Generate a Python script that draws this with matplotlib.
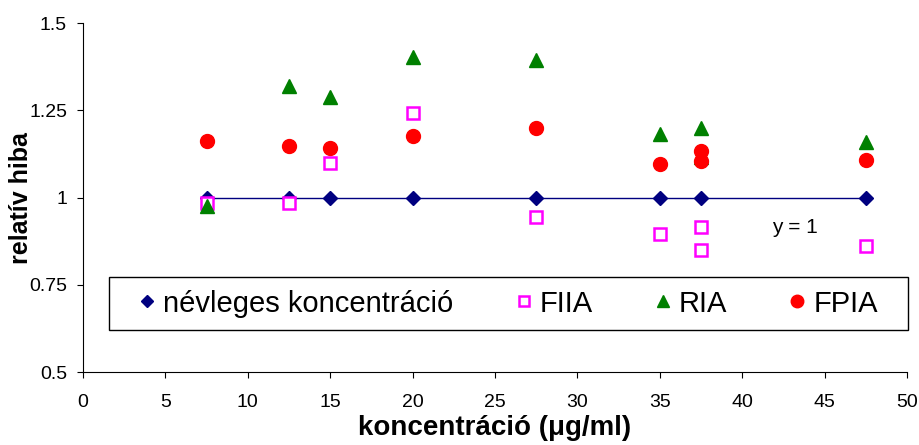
import matplotlib.pyplot as plt
from matplotlib.patches import Rectangle

plt.rcParams['font.family'] = ['Liberation Sans', 'DejaVu Sans']

conc = [7.5, 12.5, 15, 20, 27.5, 35, 37.5, 47.5]
nevleges = [1, 1, 1, 1, 1, 1, 1, 1]

fiia_x = [7.5, 12.5, 15, 20, 27.5, 35, 37.5, 37.5, 47.5]
fiia_y = [0.985, 0.985, 1.10, 1.242, 0.945, 0.895, 0.915, 0.849, 0.862]

ria_x = [7.5, 12.5, 15, 20, 27.5, 35, 37.5, 37.5, 47.5]
ria_y = [0.975, 1.32, 1.288, 1.403, 1.394, 1.182, 1.199, 1.117, 1.159]

fpia_x = [7.5, 12.5, 15, 20, 27.5, 35, 37.5, 37.5, 47.5]
fpia_y = [1.162, 1.148, 1.142, 1.176, 1.199, 1.096, 1.133, 1.105, 1.107]

fig = plt.figure(figsize=(9.19, 4.45), dpi=100)
ax = fig.add_axes([0.0903, 0.164, 0.8967, 0.784])

# trendline y = 1
ax.plot([min(conc), max(conc)], [1, 1], color='#000080', lw=1, zorder=1)

ax.plot(conc, nevleges, 'D', color='#000080', ms=7, ls='none',
        label='névleges koncentráció', zorder=3)
ax.plot(fiia_x, fiia_y, 's', mfc='white', mec='#FF00FF', mew=1.8, ms=8.5,
        ls='none', label='FIIA', zorder=3)
ax.plot(ria_x, ria_y, '^', color='#008000', ms=10, ls='none', label='RIA', zorder=3)
ax.plot(fpia_x, fpia_y, 'o', color='#FF0000', ms=10, ls='none', label='FPIA', zorder=4)

ax.text(43.2, 0.915, 'y = 1', fontsize=15, ha='center', va='center')

ax.set_xlim(0, 50)
ax.set_ylim(0.5, 1.5)
ax.set_xticks(range(0, 51, 5))
ax.set_yticks([0.5, 0.75, 1, 1.25, 1.5])
ax.set_yticklabels(['0.5', '0.75', '1', '1.25', '1.5'])
ax.tick_params(direction='out', labelsize=14, length=4.5)
ax.tick_params(axis='x', pad=11.5)
ax.tick_params(axis='y', pad=7)
ax.spines['top'].set_visible(False)
ax.spines['right'].set_visible(False)

ax.set_xlabel('koncentráció (μg/ml)', fontsize=20, fontweight='bold', labelpad=3)
ax.set_ylabel('relatív hiba', fontsize=18, fontweight='bold', labelpad=-3)

# legend frame drawn separately so the box can be wider than the entries
ax.add_patch(Rectangle((0.0316, 0.120), 0.969, 0.152, transform=ax.transAxes,
                       fill=True, facecolor='white', edgecolor='black', lw=1,
                       zorder=5, clip_on=False))
leg = ax.legend(ncol=4, loc='center', bbox_to_anchor=(0.516, 0.196),
                fontsize=21, frameon=False, handlelength=0.6,
                handletextpad=0.25, columnspacing=2.1, markerscale=0.9,
                borderpad=0, borderaxespad=0)
leg.set_zorder(6)

fig.savefig('out.png')
